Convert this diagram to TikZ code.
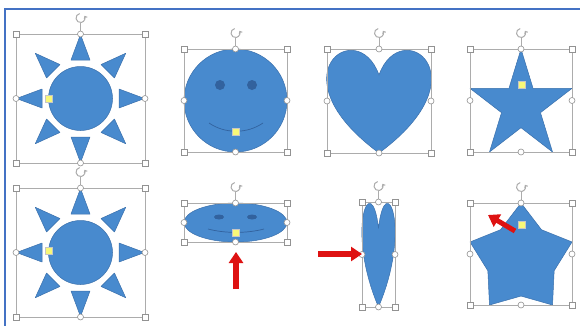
\documentclass[tikz,border=0pt]{standalone}
\usepackage{tikz}
\usetikzlibrary{arrows.meta,calc}

\definecolor{shapeblue}{RGB}{72,138,206}
\definecolor{shapeedge}{RGB}{58,112,172}
\definecolor{eyeblue}{RGB}{50,98,158}
\definecolor{framegray}{RGB}{172,172,172}
\definecolor{pageblue}{RGB}{68,114,196}
\definecolor{dragred}{RGB}{222,18,18}
\definecolor{adjyellow}{RGB}{248,248,120}

% selection frame: x1 y1 x2 y2
\newcommand{\selbox}[4]{%
  \pgfmathsetmacro\midx{(#1+#3)/2}
  \pgfmathsetmacro\midy{(#2+#4)/2}
  \draw[selframe] (#1,#2) rectangle (#3,#4);
  \draw[selframe] (\midx,#2) -- (\midx,#2-11);
  \draw[rothandle,-{Straight Barb[length=2pt,width=3.5pt]}]
    (\midx,#2-16) ++(100:4.5pt) arc[start angle=100,end angle=390,radius=4.5pt];
  \foreach \hx/\hy in {#1/#2,#3/#2,#1/#4,#3/#4}
    \filldraw[sizehandle] (\hx-3,\hy-3) rectangle (\hx+3,\hy+3);
  \foreach \hx/\hy in {\midx/#2,\midx/#4,#1/\midy,#3/\midy}
    \filldraw[sizehandle] (\hx,\hy) circle[radius=3pt];
}

% five point star in a unit box, inner ratio #1
\newcommand{\starfive}[1]{%
  \filldraw[shapefill] (0.5,0) -- ({0.5-0.309*#1},{0.5528-0.4472*#1})
    -- (0,0.382) -- ({0.5-0.5*#1},{0.5528+0.1708*#1})
    -- (0.191,1) -- (0.5,{0.5528+0.5528*#1})
    -- (0.809,1) -- ({0.5+0.5*#1},{0.5528+0.1708*#1})
    -- (1,0.382) -- ({0.5+0.309*#1},{0.5528-0.4472*#1}) -- cycle;
}

\begin{document}
\begin{tikzpicture}[
  x=1pt,
  y=-1pt,
  shapefill/.style={fill=shapeblue,draw=shapeedge,line width=0.5pt,line join=round},
  eye/.style={fill=eyeblue,draw=none},
  smile/.style={draw=eyeblue,line width=0.7pt},
  selframe/.style={draw=framegray,line width=0.8pt},
  sizehandle/.style={fill=white,draw=framegray!85!black,line width=0.6pt},
  rothandle/.style={draw=framegray,line width=1pt},
  adjhandle/.style={fill=adjyellow,draw=gray!45,line width=0.4pt},
  pageframe/.style={draw=pageblue,line width=2pt},
  dragarrow/.style={draw=dragred,line width=6pt,-{Triangle[width=14pt,length=11pt]}}
]
  \useasboundingbox (0,0) rectangle (580,325);
  \fill[white] (0,0) rectangle (580,325);
  \draw[pageframe] (5,326) -- (5,9) -- (581,9);

  % top row
  \begin{scope}[shift={(80.5,98.5)}]
    \foreach \a in {0,45,...,315}
      \filldraw[shapefill,rotate=\a] (64,0) -- (38.5,9.5) -- (38.5,-9.5) -- cycle;
    \filldraw[shapefill] (0,0) circle[radius=32pt];
  \end{scope}
  \selbox{16}{34}{145}{163}

  \filldraw[shapefill] (235.5,100.5) circle[radius=51.5pt];
  \fill[eye] (220,85) circle[radius=5pt];
  \fill[eye] (252,85) circle[radius=5pt];
  \draw[smile] (209,123) .. controls (225,134) and (247,134) .. (263,123);
  \selbox{184}{49}{287}{152}

  \begin{scope}[shift={(327,49)},xscale=104,yscale=104]
    \filldraw[shapefill] (0.5,0.25) .. controls (0.7083,-0.3333) and (1.5208,0.25) .. (0.5,1)
      .. controls (-0.5208,0.25) and (0.2917,-0.3333) .. (0.5,0.25) -- cycle;
  \end{scope}
  \selbox{327}{49}{431}{153}

  \begin{scope}[shift={(470,49)},xscale=102,yscale=103]
    \starfive{0.382}
  \end{scope}
  \selbox{470}{49}{572}{152}

  % bottom row
  \begin{scope}[shift={(80.5,252.5)}]
    \foreach \a in {0,45,...,315}
      \filldraw[shapefill,rotate=\a] (64,0) -- (38.5,9.5) -- (38.5,-9.5) -- cycle;
    \filldraw[shapefill] (0,0) circle[radius=32pt];
  \end{scope}
  \selbox{16}{188}{145}{317}

  \filldraw[shapefill] (235.5,222.5) ellipse[x radius=51.5pt,y radius=19.5pt];
  \fill[eye] (219,217) ellipse[x radius=5pt,y radius=2.5pt];
  \fill[eye] (252,217) ellipse[x radius=5pt,y radius=2.5pt];
  \draw[smile] (208,229) .. controls (225,233.5) and (247,233.5) .. (264,229);
  \selbox{184}{203}{287}{242}

  \begin{scope}[shift={(362,202)},xscale=33,yscale=105]
    \filldraw[shapefill] (0.5,0.25) .. controls (0.7083,-0.3333) and (1.5208,0.25) .. (0.5,1)
      .. controls (-0.5208,0.25) and (0.2917,-0.3333) .. (0.5,0.25) -- cycle;
  \end{scope}
  \selbox{362}{202}{395}{307}

  \begin{scope}[shift={(470,203)},xscale=102,yscale=102]
    \starfive{0.65}
  \end{scope}
  \selbox{470}{203}{572}{305}

  % adjust handles
  \filldraw[adjhandle] (45.5,95) rectangle (52.5,102);
  \filldraw[adjhandle] (232.5,128.5) rectangle (239.5,135.5);
  \filldraw[adjhandle] (518.5,81.5) rectangle (525.5,88.5);
  \filldraw[adjhandle] (45.5,247.5) rectangle (52.5,254.5);
  \filldraw[adjhandle] (232.5,229.5) rectangle (239.5,236.5);
  \filldraw[adjhandle] (518.5,221.5) rectangle (525.5,228.5);

  % drag arrows
  \coordinate (upTail) at (236,289);
  \coordinate (upTip) at (236,252);
  \coordinate (rightTail) at (318,254);
  \coordinate (rightTip) at (362,254);
  \coordinate (diagTail) at (515,231);
  \coordinate (diagTip) at (488,215);
  \draw[dragarrow] (upTail) -- (upTip);
  \draw[dragarrow] (rightTail) -- (rightTip);
  \draw[dragarrow,line width=5pt] (diagTail) -- (diagTip);
\end{tikzpicture}
\end{document}
